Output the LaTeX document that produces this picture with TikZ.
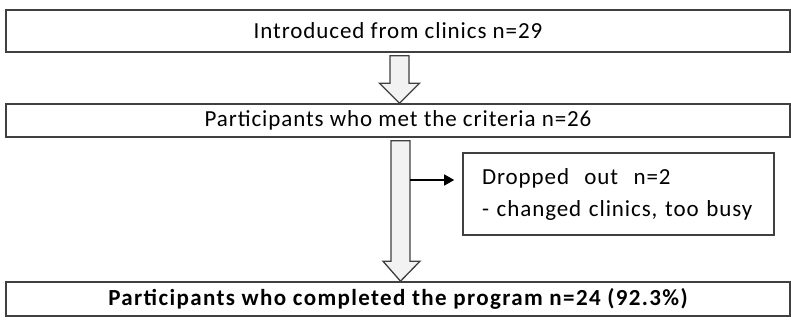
\documentclass[tikz,border=0pt]{standalone}
\usepackage{fontspec}
\setmainfont{Carlito}[LetterSpace=4, BoldFeatures={LetterSpace=6}]
\usepackage{tikz}
\usetikzlibrary{calc, positioning, arrows.meta}
\definecolor{boxgray}{HTML}{404040}
\definecolor{arrowfill}{HTML}{F2F2F2}

\begin{document}
\begin{tikzpicture}[x=1pt, y=1pt,
	stagebox/.style={draw=boxgray, line width=1.6pt, minimum width=784pt, inner sep=0pt, font=\fontsize{23}{32}\selectfont},
	notebox/.style={draw=boxgray, line width=1.6pt, text width=273pt, inner xsep=19pt, inner ysep=0pt, minimum height=82pt, align=left, font=\fontsize{23}{32}\selectfont},
	fatarrow/.style={draw=boxgray, line width=1.3pt, fill=arrowfill, line join=miter},
	sidearrow/.style={draw=black, line width=1.3pt, arrows={-Triangle[length=10pt, width=11pt]}}]
	\useasboundingbox (0,0) rectangle (791,333);
	
	%Cajas
	\node[stagebox, minimum height=42pt] (intro) at (398,302) {Introduced from clinics n=29};
	\node[stagebox, minimum height=33pt] (met) at (398,212.5) {Participants who met the criteria n=26};
	\node[stagebox, minimum height=34pt] (done) at (398,34) {\bfseries Participants who completed the program n=24 (92.3\%)};
	\node[notebox] (drop) at (618.5,139) {Dropped\ \ out\ \ n=2\\\mbox{- changed clinics, too busy}};
	
	%Flechas
	\draw[fatarrow] ([xshift=-8pt,yshift=-3pt]intro.south) -- ([xshift=-8pt,yshift=20pt]met.north) -- ([xshift=-18.5pt,yshift=20pt]met.north) -- ([xshift=1.5pt]met.north) -- ([xshift=21.5pt,yshift=20pt]met.north) -- ([xshift=11pt,yshift=20pt]met.north) -- ([xshift=11pt,yshift=-3pt]intro.south) -- cycle;
	\draw[fatarrow] ([xshift=-7pt,yshift=-3pt]met.south) -- ([xshift=-7pt,yshift=20pt]done.north) -- ([xshift=-15pt,yshift=20pt]done.north) -- ([xshift=2.5pt]done.north) -- ([xshift=22pt,yshift=20pt]done.north) -- ([xshift=12pt,yshift=20pt]done.north) -- ([xshift=12pt,yshift=-3pt]met.south) -- cycle;
	\coordinate (split) at (410,153);
	\draw[sidearrow] (split) -- ([xshift=-8pt]drop.west |- split);
\end{tikzpicture}
\end{document}
